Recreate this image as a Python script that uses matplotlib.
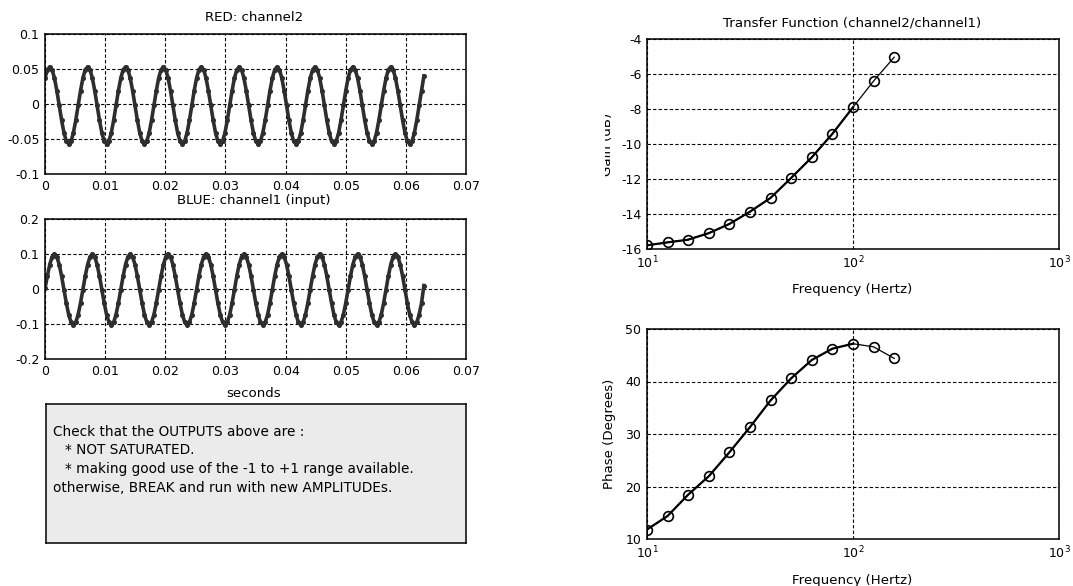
import matplotlib
matplotlib.use("Agg")
import matplotlib.pyplot as plt
from matplotlib.transforms import Bbox
import numpy as np

# sampled signals (volts), 16 samples per cycle over 0..0.063 s
ch2_red = [
    0.037, 0.049, 0.053, 0.049, 0.037, 0.019, -0.002, -0.023, -0.041, -0.053, -0.057, -0.053, -0.041, -0.023, -0.002, 0.019,
    0.037, 0.049, 0.053, 0.049, 0.037, 0.019, -0.002, -0.023, -0.041, -0.053, -0.057, -0.053, -0.041, -0.023, -0.002, 0.019,
    0.037, 0.049, 0.053, 0.049, 0.037, 0.019, -0.002, -0.023, -0.041, -0.053, -0.057, -0.053, -0.041, -0.023, -0.002, 0.019,
    0.037, 0.049, 0.053, 0.049, 0.037, 0.019, -0.002, -0.023, -0.041, -0.053, -0.057, -0.053, -0.041, -0.023, -0.002, 0.019,
    0.037, 0.049, 0.053, 0.049, 0.037, 0.019, -0.002, -0.023, -0.041, -0.053, -0.057, -0.053, -0.041, -0.023, -0.002, 0.019,
    0.037, 0.049, 0.053, 0.049, 0.037, 0.019, -0.002, -0.023, -0.041, -0.053, -0.057, -0.053, -0.041, -0.023, -0.002, 0.019,
    0.037, 0.049, 0.053, 0.049, 0.037, 0.019, -0.002, -0.023, -0.041, -0.053, -0.057, -0.053, -0.041, -0.023, -0.002, 0.019,
    0.037, 0.049, 0.053, 0.049, 0.037, 0.019, -0.002, -0.023, -0.041, -0.053, -0.057, -0.053, -0.041, -0.023, -0.002, 0.019,
    0.037, 0.049, 0.053, 0.049, 0.037, 0.019, -0.002, -0.023, -0.041, -0.053, -0.057, -0.053, -0.041, -0.023, -0.002, 0.019,
    0.037, 0.049, 0.053, 0.049, 0.037, 0.019, -0.002, -0.023, -0.041, -0.053, -0.057, -0.053, -0.041, -0.023, -0.002, 0.019,
    0.040,
]
ch1_blue = [
    0.002, 0.037, 0.070, 0.092, 0.100, 0.092, 0.070, 0.037, -0.002, -0.040, -0.073, -0.095, -0.103, -0.095, -0.073, -0.040,
    -0.002, 0.037, 0.070, 0.092, 0.100, 0.092, 0.070, 0.037, -0.002, -0.040, -0.073, -0.095, -0.103, -0.095, -0.073, -0.040,
    -0.002, 0.037, 0.070, 0.092, 0.100, 0.092, 0.070, 0.037, -0.002, -0.040, -0.073, -0.095, -0.103, -0.095, -0.073, -0.040,
    -0.002, 0.037, 0.070, 0.092, 0.100, 0.092, 0.070, 0.037, -0.002, -0.040, -0.073, -0.095, -0.103, -0.095, -0.073, -0.040,
    -0.002, 0.037, 0.070, 0.092, 0.100, 0.092, 0.070, 0.037, -0.002, -0.040, -0.073, -0.095, -0.103, -0.095, -0.073, -0.040,
    -0.002, 0.037, 0.070, 0.092, 0.100, 0.092, 0.070, 0.037, -0.002, -0.040, -0.073, -0.095, -0.103, -0.095, -0.073, -0.040,
    -0.002, 0.037, 0.070, 0.092, 0.100, 0.092, 0.070, 0.037, -0.002, -0.040, -0.073, -0.095, -0.103, -0.095, -0.073, -0.040,
    -0.002, 0.037, 0.070, 0.092, 0.100, 0.092, 0.070, 0.037, -0.002, -0.040, -0.073, -0.095, -0.103, -0.095, -0.073, -0.040,
    -0.002, 0.037, 0.070, 0.092, 0.100, 0.092, 0.070, 0.037, -0.002, -0.040, -0.073, -0.095, -0.103, -0.095, -0.073, -0.040,
    -0.002, 0.037, 0.070, 0.092, 0.100, 0.092, 0.070, 0.037, -0.002, -0.040, -0.073, -0.095, -0.103, -0.095, -0.073, -0.040,
    0.010,
]
t_end = 0.063

# transfer function points
freq_hz = [10, 12.6, 15.8, 20.0, 25.1, 31.6, 39.8, 50.1, 63.1, 79.4, 100, 125.9, 158.5]
gain_db = [-15.79, -15.62, -15.47, -15.09, -14.57, -13.87, -13.08, -11.94, -10.76, -9.42, -7.9, -6.4, -5.04]
phase_deg = [11.8, 14.4, 18.4, 22.0, 26.5, 31.3, 36.4, 40.6, 44.1, 46.25, 47.2, 46.6, 44.4]

note_lines = [
    "Check that the OUTPUTS above are :",
    "* NOT SATURATED.",
    "* making good use of the -1 to +1 range available.",
    "otherwise, BREAK and run with new AMPLITUDEs.",
]

plt.rcParams['font.family'] = ['DejaVu Sans']
plt.rcParams['axes.unicode_minus'] = False

W, H = 1073, 586
fig = plt.figure(figsize=(W / 100, H / 100), dpi=100)


def box(x0, y0, x1, y1):
    # pixel box (top-left origin) -> figure rect
    return [x0 / W, 1 - y1 / H, (x1 - x0) / W, (y1 - y0) / H]


def ftext(x, y, s, **kw):
    return fig.text(x / W, 1 - y / H, s, **kw)


def style(ax):
    ax.grid(True, color='black', linestyle=(0, (3, 2)), linewidth=0.8)
    ax.tick_params(length=0, labelsize=9, pad=4)
    for sp in ax.spines.values():
        sp.set_linewidth(1.1)


fmt = matplotlib.ticker.FormatStrFormatter('%g')
t = np.linspace(0, t_end, len(ch1_blue))

ax1 = fig.add_axes(box(45, 34, 466, 174))
ax1.plot(t, ch2_red, color='#2e2e2e', lw=2.6, marker='o', ms=2.6)
ax1.set_xlim(0, 0.07)
ax1.set_ylim(-0.1, 0.1)
ax1.set_xticks(np.arange(0, 0.071, 0.01))
ax1.set_yticks([-0.1, -0.05, 0, 0.05, 0.1])
ax1.xaxis.set_major_formatter(fmt)
ax1.yaxis.set_major_formatter(fmt)
style(ax1)

ax2 = fig.add_axes(box(45, 219, 466, 359))
ax2.plot(t, ch1_blue, color='#2e2e2e', lw=2.6, marker='o', ms=2.6)
ax2.set_xlim(0, 0.07)
ax2.set_ylim(-0.2, 0.2)
ax2.set_xticks(np.arange(0, 0.071, 0.01))
ax2.set_yticks([-0.2, -0.1, 0, 0.1, 0.2])
ax2.xaxis.set_major_formatter(fmt)
ax2.yaxis.set_major_formatter(fmt)
style(ax2)

ftext(254, 20.7, "RED: channel2", ha='center', va='baseline', fontsize=9.6)
ftext(254, 204.3, "BLUE: channel1 (input)", ha='center', va='baseline', fontsize=9.6)
ftext(254, 397.3, "seconds", ha='center', va='baseline', fontsize=9.6)

# message box
axn = fig.add_axes(box(46, 404, 466, 543))
axn.set_facecolor('#ebebeb')
axn.set_xticks([])
axn.set_yticks([])
for sp in axn.spines.values():
    sp.set_linewidth(1.1)
note_x = [53, 65, 65, 53]
note_y = [436, 454.5, 473, 491.5]
for s, x, y in zip(note_lines, note_x, note_y):
    ftext(x, y, s, ha='left', va='baseline', fontsize=9.8)

# gain
ax3 = fig.add_axes(box(647, 39, 1059, 249))
ax3.plot(freq_hz, gain_db, color='black', lw=0.9, marker='o', ms=7,
         mfc='none', mec='black', mew=1.2)
ax3.plot(freq_hz[:11], gain_db[:11], color='black', lw=1.6)
ax3.set_xscale('log')
ax3.set_xlim(10, 1000)
ax3.set_ylim(-16, -4)
ax3.set_yticks(np.arange(-16, -3, 2))
ax3.xaxis.set_minor_locator(matplotlib.ticker.NullLocator())
style(ax3)
ftext(852, 26.7, "Transfer Function (channel2/channel1)", ha='center', va='baseline', fontsize=9.6)
ftext(852, 292.7, "Frequency (Hertz)", ha='center', va='baseline', fontsize=9.6)
glab = ftext(608, 144, "Gain (dB)", ha='center', va='center', rotation=90, fontsize=9.6)
glab.set_clip_box(Bbox([[605, 0], [W, H]]))
glab.set_clip_on(True)

# phase
ax4 = fig.add_axes(box(647, 329, 1059, 539))
ax4.plot(freq_hz, phase_deg, color='black', lw=0.9, marker='o', ms=7,
         mfc='none', mec='black', mew=1.2)
ax4.plot(freq_hz[:11], phase_deg[:11], color='black', lw=1.6)
ax4.set_xscale('log')
ax4.set_xlim(10, 1000)
ax4.set_ylim(10, 50)
ax4.set_yticks([10, 20, 30, 40, 50])
ax4.xaxis.set_minor_locator(matplotlib.ticker.NullLocator())
style(ax4)
ftext(852, 584, "Frequency (Hertz)", ha='center', va='baseline', fontsize=9.6)
ftext(610, 434, "Phase (Degrees)", ha='center', va='center', rotation=90, fontsize=9.6)

fig.savefig("out.png", dpi=100)
